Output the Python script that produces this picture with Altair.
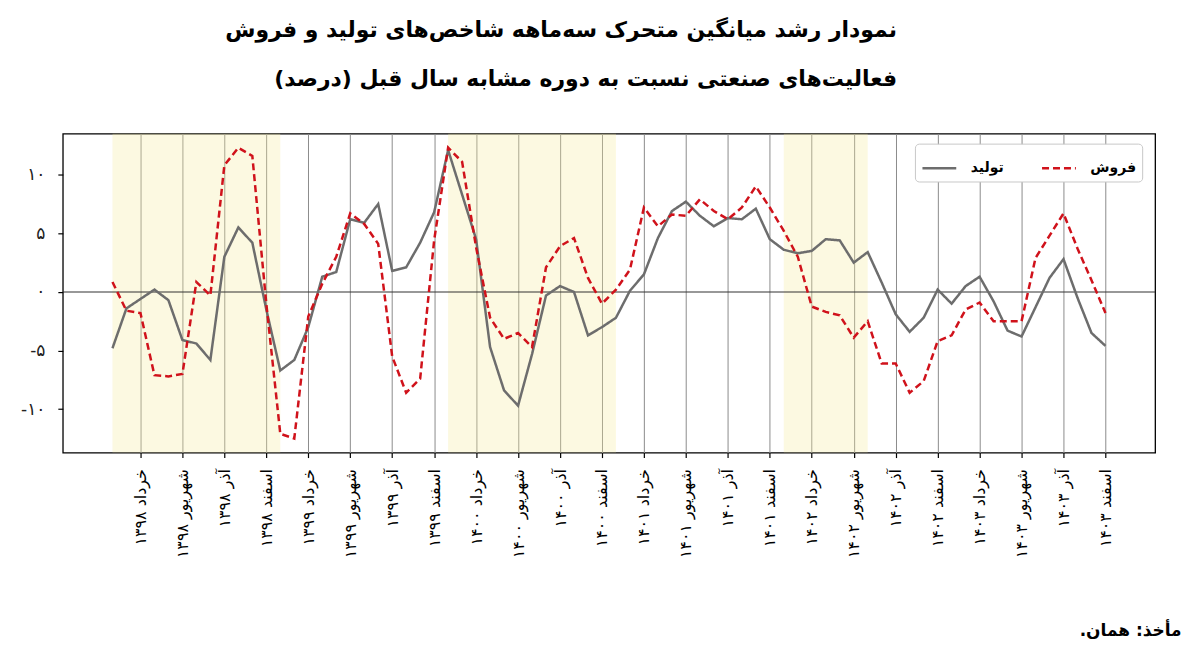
import altair as alt
import pandas as pd

# ---- data ----
series_names = ["تولید", "فروش"]
month_index = list(range(72))  # فروردین ۱۳۹۸ ... اسفند ۱۴۰۳

production = [
    -4.8, -1.4, -0.6, 0.2, -0.7, -4.1, -4.4, -5.8, 3.0, 5.5, 4.2, -1.5,
    -6.7, -5.8, -3.0, 1.3, 1.7, 6.2, 5.9, 7.5, 1.8, 2.1, 4.2, 6.8,
    12.1, 8.3, 4.5, -4.7, -8.4, -9.7, -5.3, -0.3, 0.5, 0.0, -3.7, -3.0,
    -2.2, 0.1, 1.5, 4.6, 6.9, 7.7, 6.5, 5.6, 6.3, 6.2, 7.1, 4.5,
    3.6, 3.3, 3.5, 4.5, 4.4, 2.5, 3.4, 0.8, -1.9, -3.4, -2.2, 0.2,
    -1.0, 0.5, 1.3, -0.8, -3.3, -3.8, -1.3, 1.2, 2.8, -0.5, -3.5, -4.6,
]
sales = [
    0.85, -1.6, -1.8, -7.1, -7.2, -7.0, 0.85, -0.3, 10.8, 12.3, 11.6, -1.0,
    -12.1, -12.5, -2.1, 0.7, 3.0, 6.7, 5.8, 4.1, -5.5, -8.6, -7.4, 4.4,
    12.3, 11.1, 3.8, -2.2, -4.0, -3.5, -4.7, 2.1, 3.9, 4.6, 1.2, -1.0,
    0.2, 1.9, 7.2, 5.6, 6.6, 6.5, 7.9, 6.9, 6.2, 7.2, 9.0, 7.2,
    5.2, 3.0, -1.25, -1.7, -2.0, -3.9, -2.5, -6.1, -6.1, -8.6, -7.6, -4.2,
    -3.7, -1.5, -0.9, -2.5, -2.5, -2.5, 2.9, 4.8, 6.7, 3.7, 1.0, -1.8,
]

tick_values = list(range(2, 72, 3))
tick_labels = [
    "خرداد ۱۳۹۸", "شهریور ۱۳۹۸", "آذر ۱۳۹۸", "اسفند ۱۳۹۸",
    "خرداد ۱۳۹۹", "شهریور ۱۳۹۹", "آذر ۱۳۹۹", "اسفند ۱۳۹۹",
    "خرداد ۱۴۰۰", "شهریور ۱۴۰۰", "آذر ۱۴۰۰", "اسفند ۱۴۰۰",
    "خرداد ۱۴۰۱", "شهریور ۱۴۰۱", "آذر ۱۴۰۱", "اسفند ۱۴۰۱",
    "خرداد ۱۴۰۲", "شهریور ۱۴۰۲", "آذر ۱۴۰۲", "اسفند ۱۴۰۲",
    "خرداد ۱۴۰۳", "شهریور ۱۴۰۳", "آذر ۱۴۰۳", "اسفند ۱۴۰۳",
]
y_ticks = [-10, -5, 0, 5, 10]
y_labels = ["-۱۰", "-۵", "۰", "۵", "۱۰"]

band_start = [0, 24, 48]
band_end = [12, 36, 54]

title_lines = [
    "نمودار رشد میانگین متحرک سه‌ماهه شاخص‌های تولید و فروش\u200f",
    "فعالیت‌های صنعتی نسبت به دوره مشابه سال قبل (درصد)\u200f",
]
source_text = "مأخذ: همان.\u200f"

FONT = "DejaVu Sans"

# ---- tables ----
df = pd.DataFrame({
    "i": month_index + month_index,
    "v": production + sales,
    "s": [series_names[0]] * len(production) + [series_names[1]] * len(sales),
})
bands = pd.DataFrame({"a": band_start, "b": band_end})
zero = pd.DataFrame({"z": [0]})

x_scale = alt.Scale(domain=[-3.55, 74.55], nice=False, zero=False)
y_scale = alt.Scale(domain=[-13.7, 13.5], nice=False, zero=False)

x_label_expr = "[" + ",".join("'" + t + "'" for t in tick_labels) + "][(datum.value-2)/3]"
y_label_expr = "[" + ",".join("'" + t + "'" for t in y_labels) + "][(datum.value+10)/5]"

x_axis = alt.Axis(
    values=tick_values, labelExpr=x_label_expr, labelAngle=270,
    labelFontSize=16, labelColor="black", labelFont=FONT, labelPadding=11,
    grid=True, gridColor="#8c8c8c", gridWidth=1,
    ticks=True, tickColor="black", tickSize=5, tickWidth=1.2, domain=False,
    title=source_text, titleFont=FONT, titleFontSize=17, titleFontWeight="bold",
    titleColor="black", titleAlign="right", titleBaseline="middle",
    titleX=1122, titleY=179, titleAngle=0,
)
y_axis = alt.Axis(
    values=y_ticks, labelExpr=y_label_expr, labelFontSize=17, labelColor="#222",
    labelFont=FONT, labelPadding=13, grid=False, ticks=True, tickColor="black",
    tickSize=5, tickWidth=1.2, domain=False, title=None,
)

band_layer = alt.Chart(bands).mark_rect(color="#f6ec9c", opacity=0.3).encode(
    x=alt.X("a:Q", scale=x_scale, axis=x_axis),
    x2="b:Q",
)

zero_layer = alt.Chart(zero).mark_rule(color="#333333", strokeWidth=1.1).encode(
    y=alt.Y("z:Q", scale=y_scale, axis=y_axis)
)

legend = alt.Legend(
    orient="none", legendX=855, legendY=10, direction="horizontal", title=None,
    symbolType="stroke", symbolSize=1150, symbolStrokeWidth=2.5,
    labelFont=FONT, labelFontSize=14, labelFontWeight="bold", labelColor="black",
    labelOffset=13, columnPadding=32, padding=6, fillColor="white",
    strokeColor="#c8c8c8", cornerRadius=4,
)

line_layer = alt.Chart(df).mark_line(strokeWidth=2.5).encode(
    x=alt.X("i:Q", scale=x_scale, axis=x_axis),
    y=alt.Y("v:Q", scale=y_scale, axis=y_axis),
    color=alt.Color("s:N", scale=alt.Scale(domain=series_names, range=["#6d6d6d", "#d0121b"]), legend=legend),
    strokeDash=alt.StrokeDash("s:N", scale=alt.Scale(domain=series_names, range=[[1, 0], [7, 4]]), legend=legend),
    order=alt.Order("i:Q"),
)

chart = alt.layer(band_layer, zero_layer, line_layer).properties(
    width=1096, height=320,
    padding={"left": 55, "top": 125, "right": 37, "bottom": 198},
    autosize=alt.AutoSizeParams(type="none"),
    background="white",
    title=alt.TitleParams(
        text=title_lines, anchor="end", frame="group", dx=-259, font=FONT, fontSize=22,
        fontWeight="bold", color="black", lineHeight=49, offset=43,
    ),
).configure_view(stroke="black", strokeWidth=1.3)

chart.save("out.html", embed_options={"renderer": "svg", "actions": False})
